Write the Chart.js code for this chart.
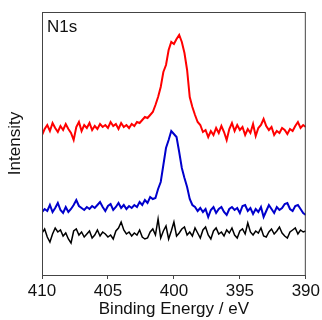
<!DOCTYPE html>
<html>
<head>
<meta charset="utf-8">
<title>N1s XPS</title>
<script src="https://cdn.jsdelivr.net/npm/chart.js@4/dist/chart.umd.min.js"></script>
<style>
  html, body { margin: 0; padding: 0; background: #fff; }
  #wrap { width: 322px; height: 320px; }
</style>
</head>
<body>
<div id="wrap"><canvas id="xpsChart" width="322" height="320"></canvas></div>
<script>
// binding energy grid (eV), 410 -> 390 in 0.2 eV steps
const eStart = 410;
const eStep = 0.2;

// intensities (offset traces, arb. units)
const redCounts = [
  140, 146, 150, 144, 152, 147, 143, 149, 145, 151,
  146, 142, 135, 148, 153, 144, 150, 147, 152, 145,
  149, 146, 151, 148, 150, 147, 153, 149, 151, 146,
  152, 148, 150, 147, 151, 149, 153, 152, 155, 158,
  157, 160, 163, 170, 178, 188, 203, 210, 225, 233,
  231, 236, 240, 233, 222, 205, 178, 168, 160, 153,
  150, 143, 145, 138, 144, 140, 147, 142, 149, 143,
  135, 146, 152, 144, 150, 145, 148, 140, 146, 142,
  151, 139, 147, 150, 156, 149, 145, 148, 140, 144,
  142, 147, 145, 141, 146, 144, 149, 153, 147, 150,
  148
];
const blueCounts = [
  63, 66, 64, 70, 63, 67, 72, 65, 62, 68,
  63, 66, 70, 75, 69, 67, 65, 68, 66, 69,
  67, 70, 73, 68, 64, 69, 71, 65, 68, 72,
  67, 70, 66, 69, 67, 70, 68, 73, 70, 75,
  72, 78, 76, 77, 86, 93, 110, 127, 135, 144,
  141, 138, 123, 107, 97, 88, 76, 70, 68, 64,
  67, 63, 66, 58, 65, 68, 62, 66, 68, 63,
  60, 66, 68, 65, 67, 62, 69, 70, 64, 67,
  61, 66, 63, 68, 58, 64, 70, 66, 62, 68,
  65, 67, 71, 72, 66, 64, 69, 70, 66, 62,
  60
];
const blackCounts = [
  42, 46, 38, 33, 41, 47, 43, 45, 39, 42,
  36, 32, 44, 46, 40, 43, 38, 41, 44, 37,
  40, 45, 39, 43, 41, 38, 40, 36, 44, 47,
  53, 45, 41, 43, 39, 42, 40, 45, 38, 36,
  37, 43, 46, 40, 56, 37, 44, 49, 36, 44,
  53, 39, 42, 46, 48, 40, 43, 39, 47, 42,
  37, 45, 48, 40, 36, 44, 47, 41, 43, 39,
  45, 42, 47, 40, 37, 44, 46, 41, 52, 43,
  40, 44, 42, 47, 39, 38, 43, 46, 41, 44,
  48, 42, 39, 37, 43, 45, 47, 41, 45, 43,
  44
];
const xTicks = [410, 405, 400, 395, 390];

function toPoints(counts) {
  return counts.map(function(v, i) {
    return { x: +(eStart - i * eStep).toFixed(1), y: v };
  });
}

const fontFamily = '"Liberation Sans", Arial, Helvetica, sans-serif';

// frame round the plot area plus the "N1s" label
const framePlugin = {
  id: 'frame',
  afterDraw: function(chart) {
    const a = chart.chartArea;
    const ctx = chart.ctx;
    ctx.save();
    ctx.strokeStyle = '#444';
    ctx.lineWidth = 1;
    ctx.strokeRect(a.left + 0.5, a.top + 0.5, a.right - a.left - 1, a.bottom - a.top);
    ctx.fillStyle = '#111';
    ctx.font = '17px ' + fontFamily;
    ctx.textBaseline = 'alphabetic';
    ctx.fillText('N1s', a.left + 5, a.top + 20);
    ctx.restore();
  }
};

new Chart(document.getElementById('xpsChart'), {
  type: 'line',
  data: {
    datasets: [
      { label: 'red', data: toPoints(redCounts), borderColor: '#ff0000', borderWidth: 2 },
      { label: 'blue', data: toPoints(blueCounts), borderColor: '#0000cc', borderWidth: 2 },
      { label: 'black', data: toPoints(blackCounts), borderColor: '#000000', borderWidth: 1.5 }
    ]
  },
  options: {
    responsive: false,
    animation: false,
    events: [],
    elements: {
      point: { radius: 0 },
      line: { tension: 0, fill: false }
    },
    layout: { padding: { top: 12, right: 16, left: 0, bottom: 0 } },
    plugins: {
      legend: { display: false },
      tooltip: { enabled: false }
    },
    scales: {
      x: {
        type: 'linear',
        reverse: true,
        min: 390,
        max: 410,
        afterFit: function(scale) { scale.height = 45; },
        afterBuildTicks: function(scale) {
          scale.ticks = xTicks.map(function(v) { return { value: v }; });
        },
        grid: {
          display: true,
          drawOnChartArea: false,
          drawTicks: true,
          tickLength: 4,
          color: '#444'
        },
        border: { display: false },
        ticks: {
          padding: 2,
          color: '#111',
          maxRotation: 0,
          font: { family: fontFamily, size: 17 }
        },
        title: {
          display: true,
          text: 'Binding Energy / eV',
          color: '#111',
          padding: { top: 0, bottom: 0 },
          font: { family: fontFamily, size: 17 }
        }
      },
      y: {
        min: 0,
        max: 263,
        afterFit: function(scale) { scale.width = 42; },
        grid: { display: false },
        border: { display: false },
        ticks: { display: false },
        title: {
          display: true,
          text: 'Intensity',
          color: '#111',
          padding: { top: 5, bottom: 0 },
          font: { family: fontFamily, size: 17 }
        }
      }
    }
  },
  plugins: [framePlugin]
});
</script>
</body>
</html>
